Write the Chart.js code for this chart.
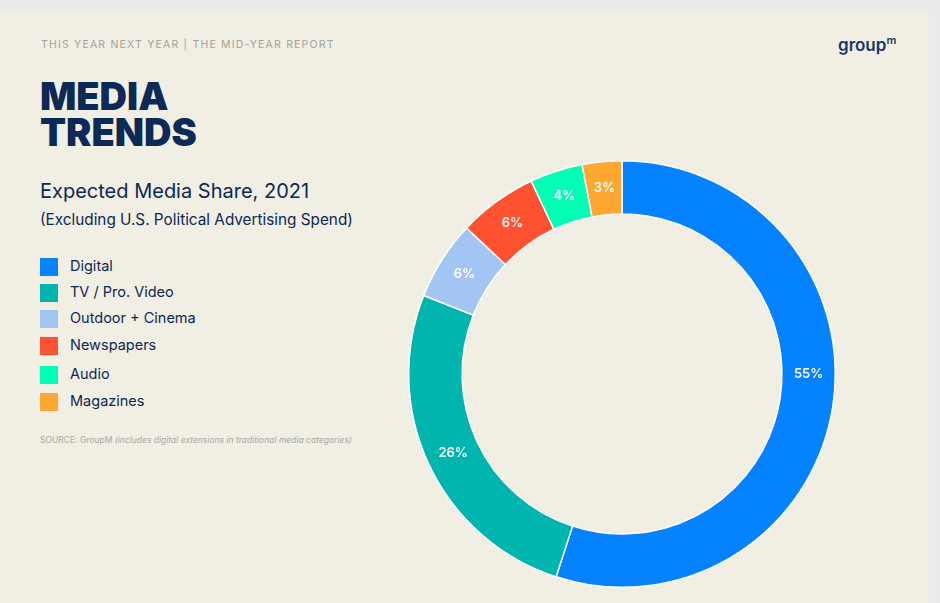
<!DOCTYPE html>
<html><head><meta charset="utf-8">
<script src="https://cdn.jsdelivr.net/npm/chart.js@4"></script>
<style>
body{margin:0;width:940px;height:603px;background:#ebebeb;font-family:Inter,"Open Sans",sans-serif;overflow:hidden;position:relative}
#panel{position:absolute;left:0;top:11px;width:929px;height:592px;background:#f1eee3}
.t{position:absolute;color:#0d2853}
#sup{left:41px;top:38px;font-size:10.5px;letter-spacing:1.2px;color:#a3a3a0}
#title{left:40px;top:78px;font-size:38px;font-weight:900;line-height:36px;letter-spacing:0px;color:#0c2a55}
#sub{left:40px;top:179px;font-size:20px}
#sub2{left:40px;top:210px;font-size:15.3px}
#logo{left:838px;top:33px;font-size:17px;font-weight:600;color:#1b3666}
#legend{position:absolute;left:40px;top:257px}
.li{position:absolute;left:0;height:20px;font-size:14.5px;color:#0d2853;white-space:nowrap}
.li span{display:inline-block;width:18px;height:18px;vertical-align:middle;margin-right:12px}
#src{left:40px;top:435px;font-size:8.5px;color:#a8a8a4}
#wrap{position:absolute;left:400px;top:152px;width:444px;height:444px}
</style></head><body>
<div id="panel"></div>
<div class="t" id="sup">THIS YEAR NEXT YEAR | THE MID-YEAR REPORT</div>
<div class="t" id="title">MEDIA<br>TRENDS</div>
<div class="t" id="sub">Expected Media Share, 2021</div>
<div class="t" id="sub2">(Excluding U.S. Political Advertising Spend)</div>
<div class="t" id="logo">group<sup style="font-size:11px">m</sup></div>
<div id="legend"></div>
<div class="t" id="src">SOURCE: GroupM <i>(includes digital extensions in traditional media categories)</i></div>
<div id="wrap"><canvas id="c" width="444" height="444"></canvas></div>
<script>
const categories=["Digital","TV / Pro. Video","Outdoor + Cinema","Newspapers","Audio","Magazines"];
const shares=[55,26,6,6,4,3];
const colors=["#0582ff","#00b5ae","#a3c5f3","#ff5230","#00ffb4","#ffa733"];
const lg=document.getElementById('legend');
const legTops=[0,26,52,79,108,135];
categories.forEach((c,i)=>{const d=document.createElement('div');d.className='li';d.style.top=legTops[i]+'px';d.innerHTML='<span style="background:'+colors[i]+'"></span>'+c;lg.appendChild(d);});
const labelPlugin={id:'lbl',afterDatasetsDraw(ch){const ctx=ch.ctx;const meta=ch.getDatasetMeta(0);ctx.save();ctx.fillStyle='#fff';ctx.font='600 13px Inter, sans-serif';ctx.textAlign='center';ctx.textBaseline='middle';
meta.data.forEach((a,i)=>{const p=a.getProps(['startAngle','endAngle','innerRadius','outerRadius','x','y'],true);let m=(p.startAngle+p.endAngle)/2;if(i===0)m=0;const r=(p.innerRadius+p.outerRadius)/2;ctx.fillText(shares[i]+'%',p.x+Math.cos(m)*r,p.y+Math.sin(m)*r);});ctx.restore();}};
new Chart(document.getElementById('c'),{type:'doughnut',data:{labels:categories,datasets:[{data:shares,backgroundColor:colors,borderColor:'#ffffff',borderWidth:1.5}]},
options:{responsive:false,animation:false,cutout:'75%',layout:{padding:8},plugins:{legend:{display:false},tooltip:{enabled:false}}},plugins:[labelPlugin]});
</script>
</body></html>
